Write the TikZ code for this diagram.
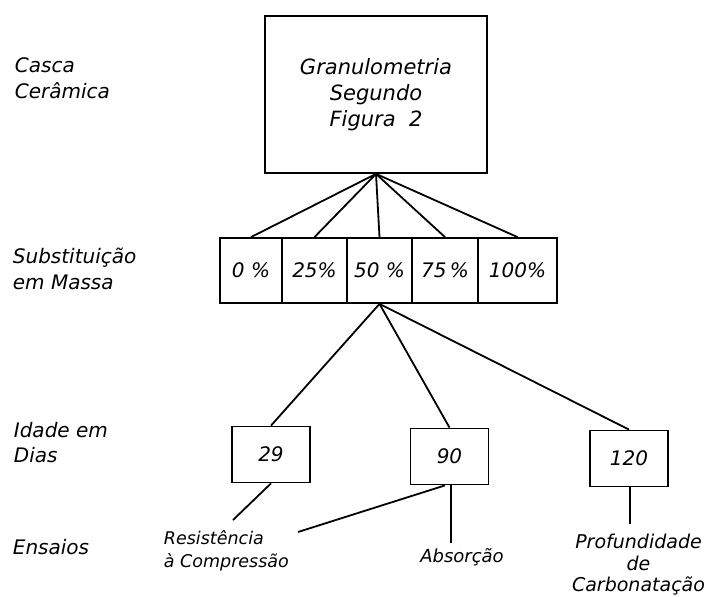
\documentclass[tikz,border=0pt]{standalone}
\usepackage{fontspec}
\setmainfont{DejaVu Sans}
\begin{document}
\begin{tikzpicture}[x=1pt,y=-1pt,line width=1.8pt,
    tx/.style={font=\fontsize{20}{26}\selectfont\itshape,inner sep=0pt},
    bx/.style={draw,tx,minimum width=78pt,minimum height=56pt},
    lb/.style={tx,align=left,anchor=west}]
    \useasboundingbox (0,0) rectangle (710,597);
    \node[bx,font=\fontsize{21}{26}\selectfont\itshape,minimum width=222pt,minimum height=157pt,align=center] (gran) at (376,94.5) {Granulometria\\Segundo\\Figura~~2};
    \foreach[count=\i] \px/\cw/\lab in {251/62/0~\%,314.5/65/25\%,379.5/65/50~\%,445/66/75\,\%,517.5/79/100\%} {
        \node[bx,minimum width=\cw pt,minimum height=65pt] (p\i) at (\px,270.5) {\lab};
        \draw (gran.south) -- (p\i.north);
    }
    \node[bx] (d29) at (271,454.5) {29};
    \node[bx] (d90) at (449.5,456.5) {90};
    \node[bx] (d120) at (629,458.5) {120};
    \foreach \d in {d29,d90,d120}
        \draw (p3.south) -- (\d.north);
    % rotulos da esquerda
    \node[lb] (casca) at (14,78.5) {Casca\\Cerâmica};
    \node[lb] (subst) at (12,269) {Substituição\\em Massa};
    \node[lb,font=\fontsize{20}{25}\selectfont\itshape] (idade) at (13,442.5) {Idade em\\Dias};
    \node[lb] (ensaios) at (12,547) {Ensaios};
    % ensaios
    \node[lb,font=\fontsize{17.5}{23}\selectfont\itshape] (res) at (163,550.5) {Resistência\\à Compressão};
    \node[tx,font=\fontsize{18}{22}\selectfont\itshape] (abs) at (462,557) {Absorção};
    \node[tx,align=center,font=\fontsize{19}{21.5}\selectfont\itshape] (prof) at (638.5,565) {Profundidade\\de\\Carbonatação};
    \coordinate (r1) at (233,520);
    \coordinate (r2) at (298,532);
    \coordinate (a1) at (451,543);
    \coordinate (c1) at (630,524);
    \draw (d29.south) -- (r1);
    \draw ([xshift=-4.5pt]d90.south) -- (r2);
    \draw ([xshift=1.5pt]d90.south) -- (a1);
    \draw ([xshift=1pt]d120.south) -- (c1);
\end{tikzpicture}
\end{document}
